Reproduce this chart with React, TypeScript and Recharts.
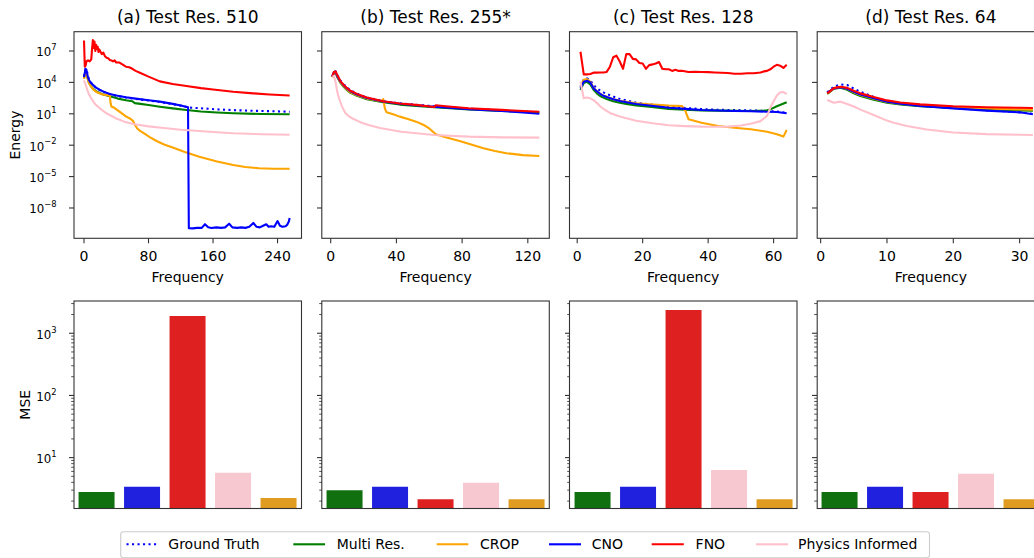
import React from "react";
import { LineChart, Line, XAxis, YAxis, BarChart, Bar, Cell } from "recharts";

// [frequency, log10(energy)] pairs for each model's spectrum
type Pt = [number, number];

// (a) Test Res. 510
const gtA: Pt[] = [[0, 4.6], [1, 4.95], [2, 5.3], [3, 5.25], [4, 4.95], [5, 4.6], [6, 4.35], [8, 4.05], [10, 3.85], [14, 3.55], [20, 3.25], [26, 3.05], [32, 2.88], [40, 2.72], [52, 2.55], [64, 2.42], [80, 2.27], [94, 2.13], [110, 1.92], [120, 1.78], [130, 1.6], [140, 1.55], [150, 1.5], [165, 1.42], [185, 1.35], [205, 1.3], [220, 1.27], [240, 1.23], [255, 1.2]];
const multiA: Pt[] = [[0, 4.4], [1, 4.75], [2, 5.1], [3, 5.0], [4, 4.55], [6, 4.0], [8, 3.72], [11, 3.4], [16, 3.1], [22, 2.9], [32, 2.68], [42, 2.45], [52, 2.3], [60, 2.2], [63, 2.02], [70, 1.95], [80, 1.84], [94, 1.68], [110, 1.52], [127, 1.36], [145, 1.22], [165, 1.12], [185, 1.05], [220, 0.98], [255, 0.95]];
const cropA: Pt[] = [[0, 4.35], [1, 4.7], [2, 5.0], [3, 4.9], [4, 4.5], [6, 4.0], [8, 3.7], [11, 3.35], [16, 3.05], [22, 2.87], [28, 2.78], [32, 2.75], [33, 2.0], [34, 1.7], [38, 1.55], [44, 1.2], [52, 0.75], [58, 0.5], [61, 0.3], [63, -0.05], [66, -0.4], [70, -0.65], [75, -0.9], [82, -1.25], [90, -1.6], [100, -1.95], [110, -2.23], [125, -2.65], [143, -3.1], [165, -3.55], [185, -3.9], [200, -4.08], [217, -4.2], [235, -4.25], [255, -4.25]];
const cnoA: Pt[] = [[0, 4.5], [1, 4.9], [2, 5.3], [3, 5.2], [4, 4.8], [5, 4.45], [6, 4.25], [8, 4.0], [10, 3.85], [14, 3.55], [20, 3.27], [26, 3.05], [32, 2.9], [40, 2.75], [52, 2.58], [64, 2.45], [80, 2.3], [94, 2.16], [110, 1.95], [120, 1.8], [129, 1.62], [130, -9.93], [135, -9.95], [140, -9.9], [146, -9.9], [150, -9.55], [154, -9.85], [158, -9.92], [164, -9.85], [170, -9.9], [175, -9.85], [180, -9.5], [184, -9.85], [190, -9.9], [195, -9.85], [200, -9.9], [205, -9.8], [210, -9.43], [214, -9.8], [218, -9.85], [222, -9.7], [226, -9.55], [229, -9.8], [232, -9.75], [236, -9.8], [240, -9.25], [243, -9.7], [246, -9.8], [250, -9.75], [252, -9.6], [254, -9.3], [255, -8.95]];
const fnoA: Pt[] = [[0, 8.0], [1, 5.5], [2, 5.6], [3, 6.0], [5, 6.1], [7, 6.0], [9, 6.2], [10, 7.2], [11, 8.05], [12, 7.3], [13, 7.9], [14, 7.0], [15, 7.6], [16, 7.2], [17, 7.4], [18, 6.9], [19, 7.15], [20, 7.0], [22, 6.7], [24, 6.85], [26, 6.5], [28, 6.35], [30, 6.3], [32, 6.15], [34, 6.1], [36, 6.0], [38, 6.1], [40, 5.9], [44, 5.9], [48, 5.7], [52, 5.5], [56, 5.45], [60, 5.3], [64, 5.1], [70, 4.9], [80, 4.55], [94, 4.1], [110, 3.85], [127, 3.65], [145, 3.45], [160, 3.32], [185, 3.1], [210, 2.95], [230, 2.85], [255, 2.75]];
const pinnA: Pt[] = [[0, 4.2], [2, 3.8], [4, 3.3], [6, 2.9], [8, 2.6], [10, 2.35], [14, 1.9], [20, 1.5], [26, 1.15], [32, 0.88], [40, 0.55], [50, 0.25], [61, 0.02], [80, -0.2], [102, -0.38], [120, -0.52], [143, -0.65], [165, -0.76], [185, -0.86], [220, -0.95], [255, -1.0]];

// (b) Test Res. 255*
const gtB: Pt[] = [[1, 4.6], [2, 5.05], [3, 5.05], [4, 4.7], [6, 4.15], [8, 3.8], [10, 3.5], [12, 3.25], [16, 2.92], [22, 2.55], [32, 2.2], [42, 2.0], [52, 1.86], [63, 1.72], [84, 1.5], [104, 1.32], [127, 1.12]];
const multiB: Pt[] = [[1, 4.5], [2, 4.95], [3, 4.95], [4, 4.5], [6, 3.95], [8, 3.55], [10, 3.25], [12, 3.0], [16, 2.72], [22, 2.4], [32, 2.1], [42, 1.88], [52, 1.74], [63, 1.62], [84, 1.42], [104, 1.27], [127, 1.13]];
const cropB: Pt[] = [[1, 4.5], [2, 4.95], [3, 4.95], [4, 4.55], [6, 4.0], [8, 3.6], [10, 3.3], [12, 3.05], [16, 2.78], [22, 2.45], [31, 2.2], [32, 2.4], [33, 1.5], [34, 1.15], [38, 0.95], [42, 0.73], [47, 0.5], [52, 0.25], [57, -0.1], [60, -0.4], [64, -0.95], [70, -1.25], [79, -1.62], [86, -1.95], [93, -2.29], [100, -2.55], [107, -2.77], [117, -2.95], [127, -3.03]];
const cnoB: Pt[] = [[1, 4.55], [2, 5.0], [3, 5.0], [4, 4.6], [6, 4.07], [8, 3.7], [10, 3.4], [12, 3.15], [16, 2.85], [22, 2.5], [32, 2.18], [42, 1.96], [52, 1.82], [63, 1.68], [70, 1.6], [84, 1.45], [104, 1.27], [115, 1.15], [127, 1.0]];
const fnoB: Pt[] = [[1, 4.55], [2, 5.0], [3, 5.05], [4, 4.7], [6, 4.1], [8, 3.75], [10, 3.45], [12, 3.2], [16, 2.9], [22, 2.55], [32, 2.2], [42, 1.98], [52, 1.85], [63, 1.65], [64, 1.82], [70, 1.72], [84, 1.53], [104, 1.37], [127, 1.2]];
const pinnB: Pt[] = [[1, 4.55], [2, 4.6], [3, 4.0], [4, 3.1], [5, 2.5], [7, 1.65], [9, 1.05], [11, 0.78], [13, 0.57], [18, 0.2], [23, -0.07], [30, -0.35], [43, -0.71], [63, -1.02], [84, -1.18], [105, -1.25], [127, -1.28]];

// (c) Test Res. 128
const gtC: Pt[] = [[1, 3.6], [2, 4.3], [3, 4.39], [4, 4.2], [5, 3.75], [6, 3.45], [7, 3.2], [8, 3.05], [9, 2.9], [11, 2.65], [13, 2.42], [15, 2.28], [18, 2.06], [22, 1.9], [28, 1.68], [33, 1.55], [38, 1.45], [43, 1.38], [48, 1.36], [53, 1.32], [58, 1.27], [61, 1.22], [64, 1.1]];
const multiC: Pt[] = [[1, 3.28], [2, 3.95], [3, 4.05], [4, 3.8], [5, 3.3], [6, 2.95], [7, 2.7], [8, 2.55], [9, 2.42], [11, 2.2], [13, 2.05], [15, 1.95], [18, 1.8], [22, 1.68], [28, 1.46], [33, 1.38], [38, 1.33], [43, 1.3], [48, 1.28], [53, 1.27], [57, 1.3], [58, 1.33], [59, 1.42], [61, 1.72], [64, 2.1]];
const cropC: Pt[] = [[1, 3.6], [2, 4.25], [3, 4.32], [4, 4.05], [5, 3.5], [6, 3.15], [7, 2.9], [8, 2.75], [9, 2.62], [11, 2.4], [13, 2.25], [15, 2.15], [18, 2.0], [22, 1.9], [28, 1.78], [32, 1.75], [33, 1.3], [34, 0.48], [38, 0.15], [43, -0.16], [48, -0.33], [53, -0.48], [58, -0.71], [61, -0.95], [63, -1.18], [64, -0.55]];
const cnoC: Pt[] = [[1, 3.43], [2, 4.07], [3, 4.16], [4, 4.0], [5, 3.43], [6, 3.15], [7, 2.9], [8, 2.72], [9, 2.6], [11, 2.4], [13, 2.22], [15, 2.1], [18, 1.94], [22, 1.8], [28, 1.58], [33, 1.47], [38, 1.36], [43, 1.32], [48, 1.27], [53, 1.24], [58, 1.2], [61, 1.17], [64, 1.05]];
const fnoC: Pt[] = [[1, 6.93], [2, 4.77], [3, 4.77], [4, 4.8], [5, 4.93], [6, 4.93], [7, 4.95], [8, 4.95], [9, 5.0], [10, 5.5], [11, 6.4], [12, 6.55], [13, 6.0], [14, 5.3], [15, 6.7], [16, 6.7], [17, 6.25], [18, 6.2], [19, 5.85], [20, 5.8], [21, 5.3], [22, 5.65], [23, 5.72], [24, 5.8], [25, 5.95], [26, 5.3], [27, 5.25], [28, 5.25], [29, 5.1], [30, 5.2], [31, 5.1], [32, 5.12], [34, 5.0], [36, 5.02], [38, 5.0], [40, 4.98], [42, 4.95], [44, 4.92], [46, 4.9], [48, 4.82], [50, 4.83], [52, 4.88], [54, 4.88], [56, 4.95], [57, 5.05], [58, 5.1], [59, 5.25], [60, 5.5], [61, 5.68], [62, 5.6], [63, 5.38], [64, 5.69]];
const pinnC: Pt[] = [[1, 4.07], [2, 2.48], [3, 2.55], [4, 2.48], [5, 2.3], [6, 2.05], [7, 1.72], [8, 1.48], [10, 1.08], [13, 0.75], [18, 0.34], [23, 0.09], [28, -0.1], [33, -0.18], [38, -0.23], [43, -0.24], [46, -0.23], [50, -0.12], [53, 0.05], [56, 0.3], [58, 0.8], [59, 1.6], [60, 2.2], [61, 2.75], [62, 3.05], [63, 3.08], [64, 2.89]];

// (d) Test Res. 64
const gtD: Pt[] = [[1, 3.05], [2, 3.6], [3, 3.8], [4, 3.75], [5, 3.4], [6, 3.1], [8, 2.6], [10, 2.22], [12, 2.0], [15, 1.78], [20, 1.55], [25, 1.33], [30, 1.16], [32, 1.0]];
const multiD: Pt[] = [[1, 2.9], [2, 3.4], [3, 3.5], [4, 3.3], [5, 2.95], [6, 2.7], [8, 2.35], [10, 2.05], [12, 1.9], [15, 1.72], [20, 1.55], [25, 1.42], [30, 1.33], [32, 1.3]];
const cropD: Pt[] = [[1, 2.95], [2, 3.45], [3, 3.55], [4, 3.38], [5, 3.05], [6, 2.8], [8, 2.45], [10, 2.13], [12, 1.97], [15, 1.8], [20, 1.63], [25, 1.5], [30, 1.42], [32, 1.38]];
const cnoD: Pt[] = [[1, 3.02], [2, 3.43], [3, 3.53], [4, 3.4], [5, 3.11], [6, 2.85], [8, 2.48], [10, 2.16], [12, 1.97], [15, 1.75], [20, 1.52], [25, 1.3], [30, 1.14], [32, 0.95]];
const fnoD: Pt[] = [[1, 2.95], [2, 3.45], [3, 3.58], [4, 3.48], [5, 3.2], [6, 2.95], [8, 2.6], [10, 2.28], [12, 2.08], [15, 1.9], [20, 1.72], [25, 1.62], [30, 1.58], [32, 1.55]];
const pinnD: Pt[] = [[1, 2.32], [2, 2.06], [3, 2.16], [4, 1.94], [5, 1.7], [6, 1.4], [8, 0.89], [10, 0.35], [11, 0.15], [13, -0.16], [16, -0.5], [20, -0.78], [25, -0.94], [30, -1.0], [32, -1.02]];

// MSE per model, bar order: Multi Res., CNO, FNO, Physics Informed, CROP
const mseModels = ["Multi Res.", "CNO", "FNO", "Physics Informed", "CROP"];
const mseA = [2.8, 3.4, 1900, 5.7, 2.25];
const mseB = [3.0, 3.4, 2.15, 3.95, 2.15];
const mseC = [2.8, 3.4, 2370, 6.3, 2.15];
const mseD = [2.8, 3.4, 2.8, 5.5, 2.15];

const titles = ["(a) Test Res. 510", "(b) Test Res. 255*", "(c) Test Res. 128", "(d) Test Res. 64"];
const freqTicks = [[0, 80, 160, 240], [0, 40, 80, 120], [0, 20, 40, 60], [0, 10, 20, 30]];
const energyTicks = [1e-8, 1e-5, 1e-2, 1e1, 1e4, 1e7];
const mseTicks = [
  2, 3, 4, 5, 6, 7, 8, 9, 10, 20, 30, 40, 50, 60, 70, 80, 90,
  100, 200, 300, 400, 500, 600, 700, 800, 900, 1000, 2000, 3000,
];

// ---- styling / layout ----
const FONT = "'DejaVu Sans', sans-serif";
const SPINE = "#333";
const SERIES = [
  { name: "Ground Truth", color: "blue", dash: "2.1 3.4" },
  { name: "Multi Res.", color: "green" },
  { name: "CROP", color: "orange" },
  { name: "CNO", color: "blue" },
  { name: "FNO", color: "red" },
  { name: "Physics Informed", color: "pink" },
];
const BAR_COLORS = ["#107010", "#2020df", "#df2020", "#f7c8d0", "#df9c20"];

const PLOT_LEFT = [74, 321.8, 569.5, 817.2];
const PLOT_W = 227.5;
const X_DOMAINS: [number, number][] = [[-12.4, 269.7], [-5.3, 133.2], [-2.2, 67.3], [-0.55, 33.75]];
const AXIS_W = 70;
const RIGHT_PAD = 12;
const TOP_Y = 31.7;
const TOP_H = 206.6;
const TOP_CHART_H = 300;
const BAR_Y = 301;
const BAR_H = 207.5;
const BAR_PAD = 10;
const BAR_CHART_H = BAR_PAD + BAR_H + 20;
const ENERGY_DOMAIN: [number, number] = [1.27e-11, 6.98e8];
const MSE_DOMAIN: [number, number] = [1.52, 3300];

const spectra = [
  [gtA, multiA, cropA, cnoA, fnoA, pinnA],
  [gtB, multiB, cropB, cnoB, fnoB, pinnB],
  [gtC, multiC, cropC, cnoC, fnoC, pinnC],
  [gtD, multiD, cropD, cnoD, fnoD, pinnD],
];
const mse = [mseA, mseB, mseC, mseD];

const toRows = (pts: Pt[]) => pts.map(([f, lg]) => ({ f, e: 10 ** lg }));

function LogTick(props: any) {
  const { x, y, payload, showLabel } = props;
  const v: number = payload.value;
  const lg = Math.log10(v);
  const exp = Math.round(lg);
  const major = Math.abs(lg - exp) < 1e-6;
  const len = major ? 5 : 2.8;
  return (
    <g>
      <line x1={x - len} x2={x} y1={y} y2={y} stroke={SPINE} strokeWidth={major ? 1.1 : 0.85} />
      {major && showLabel && (
        <text x={x - 17.5} y={y + 5.5} textAnchor="end" fontFamily={FONT} fill="#000">
          <tspan fontSize={11.8}>10</tspan>
          <tspan fontSize={8.4} dy={-6.2}>
            {exp < 0 ? "\u2212" + Math.abs(exp) : String(exp)}
          </tspan>
        </text>
      )}
    </g>
  );
}

function FreqTick(props: any) {
  const { x, y, payload } = props;
  return (
    <g>
      <line x1={x} x2={x} y1={y} y2={y + 5} stroke={SPINE} strokeWidth={1.1} />
      <text x={x} y={y + 23} textAnchor="middle" fontFamily={FONT} fontSize={14} fill="#000">
        {payload.value}
      </text>
    </g>
  );
}

function SpectrumPanel({ idx }: { idx: number }) {
  return (
    <div style={{ position: "absolute", left: PLOT_LEFT[idx] - AXIS_W, top: 0 }}>
      <LineChart
        width={AXIS_W + PLOT_W + RIGHT_PAD}
        height={TOP_CHART_H}
        margin={{ top: TOP_Y, right: RIGHT_PAD, bottom: 0, left: 0 }}
      >
        <XAxis
          type="number"
          dataKey="f"
          domain={X_DOMAINS[idx]}
          ticks={freqTicks[idx]}
          allowDataOverflow
          interval={0}
          axisLine={false}
          tickLine={false}
          tickSize={0}
          tickMargin={0}
          height={TOP_CHART_H - TOP_Y - TOP_H}
          tick={(p: any) => <FreqTick {...p} />}
        />
        <YAxis
          type="number"
          scale="log"
          domain={ENERGY_DOMAIN}
          ticks={energyTicks}
          allowDataOverflow
          interval={0}
          axisLine={false}
          tickLine={false}
          tickSize={0}
          tickMargin={0}
          width={AXIS_W}
          tick={(p: any) => <LogTick {...p} showLabel={idx === 0} />}
        />
        {spectra[idx].map((pts, i) => (
          <Line
            key={SERIES[i].name}
            data={toRows(pts)}
            dataKey="e"
            type="linear"
            stroke={SERIES[i].color}
            strokeWidth={2.1}
            strokeDasharray={SERIES[i].dash}
            strokeLinejoin="round"
            dot={false}
            activeDot={false}
            isAnimationActive={false}
          />
        ))}
      </LineChart>
    </div>
  );
}

function MsePanel({ idx }: { idx: number }) {
  const rows = mseModels.map((name, i) => ({ name, mse: mse[idx][i] }));
  return (
    <div style={{ position: "absolute", left: PLOT_LEFT[idx] - AXIS_W, top: BAR_Y - BAR_PAD }}>
      <BarChart
        width={AXIS_W + PLOT_W + RIGHT_PAD}
        height={BAR_CHART_H}
        data={rows}
        margin={{ top: BAR_PAD, right: RIGHT_PAD, bottom: 0, left: 0 }}
        barCategoryGap="10%"
      >
        <XAxis
          dataKey="name"
          type="category"
          tick={false}
          tickLine={false}
          axisLine={false}
          height={BAR_CHART_H - BAR_PAD - BAR_H}
        />
        <YAxis
          type="number"
          scale="log"
          domain={MSE_DOMAIN}
          ticks={mseTicks}
          allowDataOverflow
          interval={0}
          axisLine={false}
          tickLine={false}
          tickSize={0}
          tickMargin={0}
          width={AXIS_W}
          tick={(p: any) => <LogTick {...p} showLabel={idx === 0} />}
        />
        <Bar dataKey="mse" isAnimationActive={false}>
          {rows.map((r, i) => (
            <Cell key={r.name} fill={BAR_COLORS[i]} />
          ))}
        </Bar>
      </BarChart>
    </div>
  );
}

// legend handle extents and label starts
const LEGEND_HANDLES: [number, number, number][] = [
  [126.5, 157, 168.3],
  [293.3, 325, 336.7],
  [436.7, 468.3, 480],
  [549, 581, 591.7],
  [651.7, 683.8, 695.6],
  [756, 788, 798],
];

function Overlay() {
  return (
    <svg
      width={1034}
      height={558}
      style={{ position: "absolute", left: 0, top: 0, pointerEvents: "none" }}
      fontFamily={FONT}
    >
      {PLOT_LEFT.map((lx, i) => (
        <g key={i}>
          <rect x={lx} y={TOP_Y} width={PLOT_W} height={TOP_H} fill="none" stroke={SPINE} strokeWidth={1.1} />
          <rect x={lx} y={BAR_Y} width={PLOT_W} height={BAR_H} fill="none" stroke={SPINE} strokeWidth={1.1} />
          <text x={lx + PLOT_W / 2} y={22.5} textAnchor="middle" fontSize={17} fill="#000">
            {titles[i]}
          </text>
          <text x={lx + PLOT_W / 2} y={281.5} textAnchor="middle" fontSize={14} fill="#000">
            Frequency
          </text>
        </g>
      ))}
      <text transform={`translate(20, ${TOP_Y + TOP_H / 2}) rotate(-90)`} textAnchor="middle" fontSize={14} fill="#000">
        Energy
      </text>
      <text transform={`translate(30, ${BAR_Y + BAR_H / 2}) rotate(-90)`} textAnchor="middle" fontSize={14} fill="#000">
        MSE
      </text>

      <rect x={120.7} y={531.7} width={808.8} height={26} rx={2.8} fill="#fff" fillOpacity={0.8} stroke="#cccccc" strokeWidth={1.1} />
      {SERIES.map((s, i) => {
        const [x1, x2, tx] = LEGEND_HANDLES[i];
        return (
          <g key={s.name}>
            <line x1={x1} x2={x2} y1={544.3} y2={544.3} stroke={s.color} strokeWidth={2.1} strokeDasharray={s.dash} />
            <text x={tx} y={549.3} fontSize={14} fill="#000">
              {s.name}
            </text>
          </g>
        );
      })}
    </svg>
  );
}

export default function App() {
  return (
    <div
      style={{
        position: "absolute",
        left: 0,
        top: 0,
        width: 1034,
        height: 558,
        overflow: "hidden",
        background: "#fff",
        fontFamily: FONT,
      }}
    >
      {[0, 1, 2, 3].map((i) => (
        <SpectrumPanel key={`s${i}`} idx={i} />
      ))}
      {[0, 1, 2, 3].map((i) => (
        <MsePanel key={`m${i}`} idx={i} />
      ))}
      <Overlay />
    </div>
  );
}
